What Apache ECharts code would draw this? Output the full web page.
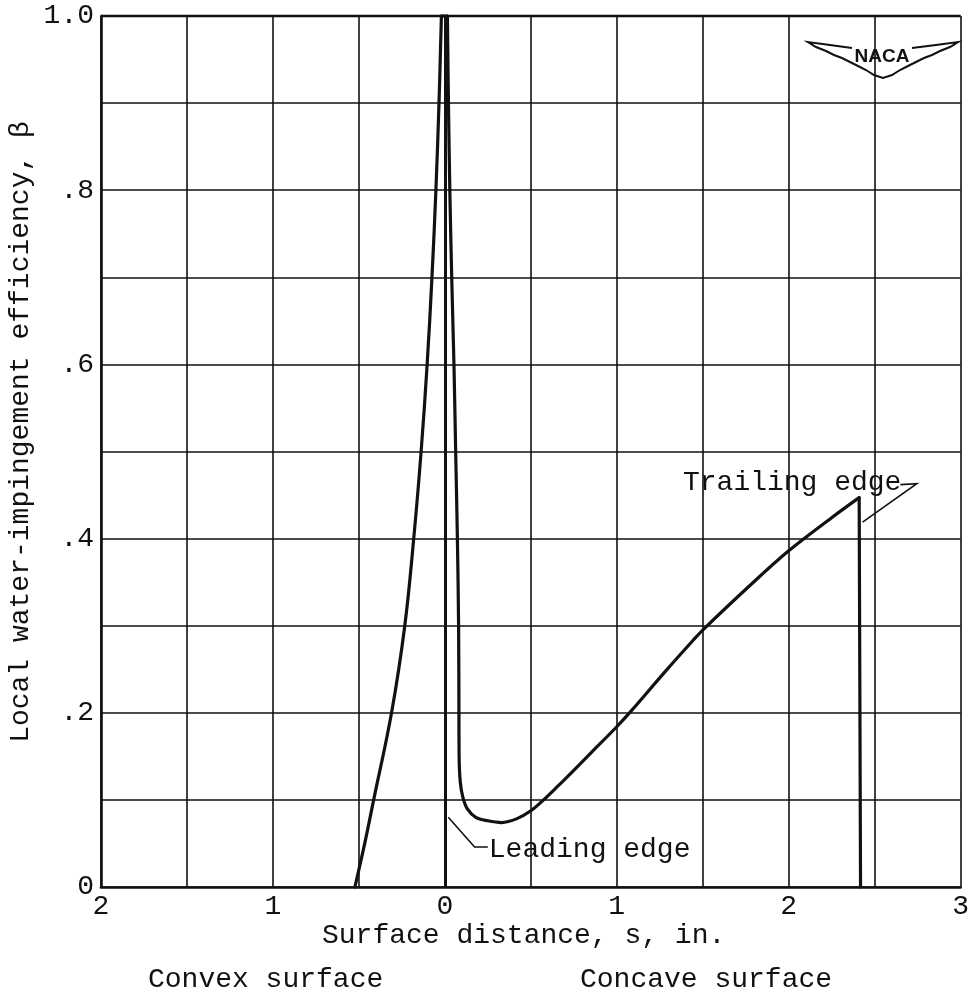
<!DOCTYPE html>
<html>
<head>
<meta charset="utf-8">
<script src="https://cdn.jsdelivr.net/npm/echarts@6/dist/echarts.min.js"></script>
<style>
html,body{margin:0;padding:0;background:#fff;}
#chart{width:972px;height:997px;}
</style>
</head>
<body>
<div id="chart"></div>
<script>
// ---- data ----
// convex-surface branch (s negative = convex side), beta
const convexS    = [-0.523, -0.466, -0.414, -0.310, -0.233, -0.181, -0.138, -0.103, -0.075, -0.052, -0.034, -0.020];
const convexBeta = [ 0.000,  0.050,  0.100,  0.200,  0.300,  0.400,  0.500,  0.600,  0.700,  0.800,  0.900,  1.000];
// peak across the leading edge
const peakS    = [-0.020, 0.015];
const peakBeta = [ 1.000, 1.000];
// concave-surface branch
const concaveS    = [0.015, 0.021, 0.029, 0.040, 0.053, 0.063, 0.073, 0.080, 0.082, 0.083, 0.090, 0.105, 0.130, 0.180, 0.250, 0.330, 0.420, 0.500, 0.571, 0.648, 0.750, 0.850, 1.000, 1.079, 1.289, 1.443, 1.500, 1.768, 2.000, 2.250, 2.410];
const concaveBeta = [1.000, 0.900, 0.800, 0.700, 0.600, 0.500, 0.400, 0.300, 0.200, 0.150, 0.120, 0.103, 0.090, 0.080, 0.076, 0.074, 0.0785, 0.0875, 0.0995, 0.114, 0.134, 0.154, 0.184, 0.201, 0.249, 0.283, 0.295, 0.345, 0.386, 0.424, 0.447];
// trailing edge drop
const trailS    = [2.410, 2.418];
const trailBeta = [0.447, 0.000];
const leadingEdgeS = 0;
const topBorderBeta = 1;

// tick labels
const xTickValues = [-2, -1, 0, 1, 2, 3];
const xTickLabels = ['2', '1', '0', '1', '2', '3'];
const yTickValues = [0, 0.2, 0.4, 0.6, 0.8, 1.0];
const yTickLabels = ['0', '.2', '.4', '.6', '.8', '1.0'];

const xTitle = 'Surface distance, s, in.';
const yTitle = 'Local water-impingement efficiency, \u03b2';
const convexLabel = 'Convex surface';
const concaveLabel = 'Concave surface';
const leadingLabel = 'Leading edge';
const trailingLabel = 'Trailing edge';

// ---- chart ----
const FONT = '"Liberation Mono", "Courier New", monospace';
const INK = '#111';
const zip = (a, b) => a.map((v, i) => [v, b[i]]);
function fmt(list, labels, v) {
  for (let i = 0; i < list.length; i++) if (Math.abs(list[i] - v) < 1e-6) return labels[i];
  return '';
}
const lineSeries = (name, s, b, smooth) => ({
  name, type: 'line', data: zip(s, b), showSymbol: false, symbol: 'none',
  smooth: smooth, clip: false, silent: true, animation: false,
  lineStyle: { color: INK, width: 3.2, cap: 'round', join: 'round' }
});

const chart = echarts.init(document.getElementById('chart'), null, { renderer: 'canvas' });
const convexSeries = lineSeries('convex', convexS, convexBeta, 0.4);
convexSeries.markLine = {
  silent: true, symbol: ['none', 'none'], animation: false,
  label: { show: false },
  lineStyle: { color: INK, width: 3, type: 'solid' },
  data: [{ xAxis: leadingEdgeS }, { yAxis: topBorderBeta, lineStyle: { width: 2.4 } }]
};
chart.setOption({
  backgroundColor: '#fff',
  animation: false,
  grid: { left: 101, right: 1, top: 16, bottom: 110, containLabel: false },
  xAxis: {
    type: 'value', min: -2, max: 3, interval: 0.5,
    axisLine: { show: true, onZero: false, lineStyle: { color: INK, width: 2.6 } },
    axisTick: { show: false },
    splitLine: { show: true, lineStyle: { color: INK, width: 1.6 } },
    axisLabel: {
      margin: 6, color: INK, fontFamily: FONT, fontSize: 28,
      showMinLabel: true, showMaxLabel: true,
      formatter: v => fmt(xTickValues, xTickLabels, v)
    }
  },
  yAxis: {
    type: 'value', min: 0, max: 1, interval: 0.1,
    axisLine: { show: true, onZero: false, lineStyle: { color: INK, width: 2.6 } },
    axisTick: { show: false },
    splitLine: { show: true, lineStyle: { color: INK, width: 1.6 } },
    axisLabel: {
      margin: 7, color: INK, fontFamily: FONT, fontSize: 28,
      showMinLabel: true, showMaxLabel: true,
      formatter: v => fmt(yTickValues, yTickLabels, v)
    }
  },
  series: [
    convexSeries,
    lineSeries('peak', peakS, peakBeta, false),
    lineSeries('concave', concaveS, concaveBeta, 0.35),
    lineSeries('trail', trailS, trailBeta, false)
  ]
});

// annotations placed from data coordinates
const px = (s, b) => chart.convertToPixel({ gridIndex: 0 }, [s, b]);
const lead0 = px(0.02, 0.080);
const lead1 = px(0.173, 0.046);
const lead2 = px(0.250, 0.046);
const trl0 = px(2.43, 0.419);
const trl1 = px(2.745, 0.463);
const trl2 = px(2.65, 0.462);
const txt = (text, x, y, align, extra) => Object.assign({
  type: 'text', silent: true,
  style: { text, x, y, font: '28px ' + FONT, fill: INK, textAlign: align || 'left', textVerticalAlign: 'middle' }
}, extra || {});
const poly = (pts, w) => ({ type: 'polyline', silent: true, shape: { points: pts }, style: { stroke: INK, lineWidth: w || 1.6, fill: null } });

chart.setOption({
  graphic: [
    poly([lead0, lead1, lead2], 1.6),
    txt(leadingLabel, lead2[0] + 1, lead2[1] + 3, 'left'),
    poly([trl0, trl1, trl2], 1.6),
    txt(trailingLabel, trl2[0] + 1, trl2[1] - 2, 'right'),
    txt(xTitle, 322, 936, 'left'),
    txt(convexLabel, 148, 980, 'left'),
    txt(concaveLabel, 580, 980, 'left'),
    txt(yTitle, 0, 0, 'center', { x: 21, y: 432, rotation: Math.PI / 2 }),
    // NACA wing emblem
    poly([[852,48],[830,45],[808,42],[816,47],[826,51],[834,55],[842,58],[850,62],[858,66],[866,70],[874,75],[883,78],[892,75],[900,70],[908,66],[916,62],[924,58],[932,55],[940,51],[950,47],[958,42],[936,45],[912,48]], 2),
    { type: 'text', silent: true, style: { text: 'NACA', x: 882, y: 57, font: 'bold 19px "Liberation Sans", Arial, sans-serif', fill: INK, textAlign: 'center', textVerticalAlign: 'middle' } }
  ]
});
</script>
</body>
</html>
